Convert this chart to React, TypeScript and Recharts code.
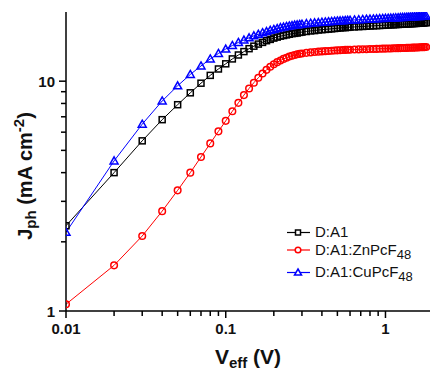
import React from 'react'
import { LineChart, Line, XAxis, YAxis } from 'recharts'

// effective voltage (V)
const V_EFF = [
  0.01, 0.02, 0.03, 0.04, 0.05, 0.06, 0.07, 0.08, 0.09, 0.1,
  0.11, 0.12, 0.13, 0.14, 0.15, 0.16, 0.17, 0.18, 0.19, 0.2,
  0.21, 0.22, 0.23, 0.24, 0.25, 0.26, 0.27, 0.28, 0.29, 0.3,
  0.32, 0.34, 0.36, 0.38, 0.4, 0.42, 0.44, 0.46, 0.48, 0.5,
  0.52, 0.54, 0.56, 0.58, 0.6,
  0.64, 0.68, 0.72, 0.76, 0.8, 0.84, 0.88, 0.92, 0.96, 1.0,
  1.04, 1.08, 1.12, 1.16, 1.2, 1.24, 1.28, 1.32, 1.36, 1.4,
  1.44, 1.48, 1.52, 1.56, 1.6, 1.64, 1.68, 1.72, 1.76, 1.8,
]

// Jph (mA cm-2)
const J_DA1 = [
  2.35, 4.0, 5.5, 6.8, 7.9, 8.9, 9.8, 10.6, 11.3, 11.9,
  12.5, 13.0, 13.45, 13.85, 14.2, 14.5, 14.75, 15.0, 15.2, 15.4,
  15.55, 15.7, 15.8, 15.9, 16.0, 16.1, 16.15, 16.2, 16.3, 16.35,
  16.45, 16.55, 16.6, 16.7, 16.75, 16.8, 16.85, 16.9, 16.95, 17.0,
  17.05, 17.1, 17.1, 17.15, 17.2,
  17.22, 17.27, 17.3, 17.34, 17.38, 17.41, 17.44, 17.47, 17.5, 17.53,
  17.56, 17.58, 17.6, 17.63, 17.65, 17.68, 17.7, 17.72, 17.74, 17.76,
  17.78, 17.8, 17.82, 17.84, 17.86, 17.88, 17.9, 17.92, 17.94, 17.96,
]

const J_ZN = [
  1.07, 1.58, 2.12, 2.72, 3.35, 4.0, 4.68, 5.36, 6.05, 6.72,
  7.4, 8.05, 8.7, 9.3, 9.85, 10.35, 10.8, 11.2, 11.55, 11.85,
  12.1, 12.3, 12.5, 12.65, 12.8, 12.9, 13.0, 13.1, 13.15, 13.2,
  13.28, 13.34, 13.39, 13.44, 13.48, 13.51, 13.54, 13.57, 13.6, 13.62,
  13.64, 13.66, 13.68, 13.7, 13.71,
  13.73, 13.75, 13.77, 13.78, 13.8, 13.81, 13.82, 13.84, 13.85, 13.86,
  13.87, 13.88, 13.9, 13.91, 13.92, 13.93, 13.94, 13.95, 13.96, 13.97,
  13.98, 13.99, 14.0, 14.01, 14.02, 14.04, 14.05, 14.06, 14.07, 14.08,
]

const J_CU = [
  2.2, 4.5, 6.5, 8.2, 9.55, 10.7, 11.65, 12.5, 13.2, 13.8,
  14.3, 14.75, 15.1, 15.45, 15.75, 16.0, 16.25, 16.45, 16.65, 16.8,
  16.95, 17.1, 17.2, 17.3, 17.4, 17.45, 17.55, 17.6, 17.65, 17.7,
  17.8, 17.88, 17.95, 18.0, 18.05, 18.1, 18.15, 18.2, 18.25, 18.28,
  18.31, 18.34, 18.37, 18.4, 18.43,
  18.48, 18.52, 18.56, 18.6, 18.63, 18.66, 18.69, 18.72, 18.75, 18.78,
  18.8, 18.83, 18.85, 18.88, 18.9, 18.93, 18.95, 18.97, 19.0, 19.02,
  19.04, 19.06, 19.08, 19.1, 19.12, 19.14, 19.16, 19.18, 19.2, 19.22,
]

const X_TICKS = [
  0.01, 0.02, 0.03, 0.04, 0.05, 0.06, 0.07, 0.08, 0.09,
  0.1, 0.2, 0.3, 0.4, 0.5, 0.6, 0.7, 0.8, 0.9, 1,
]
const X_LABELS = ['0.01', '0.1', '1']
const Y_TICKS = [1, 2, 3, 4, 5, 6, 7, 8, 9, 10]
const Y_LABELS = ['1', '10']

const data = V_EFF.map((v, i) => ({ v, da1: J_DA1[i], zn: J_ZN[i], cu: J_CU[i] }))

const FONT = 'Liberation Sans, Arial, sans-serif'

function XTick(props: any) {
  const { x, y, payload } = props
  const label = String(payload.value)
  const major = X_LABELS.includes(label)
  return (
    <g>
      <line x1={x} x2={x} y1={y} y2={y + (major ? 7 : 5)} stroke="#000" strokeWidth={1.5} />
      {major && (
        <text x={x} y={y + 22.5} textAnchor="middle" fontFamily={FONT} fontWeight="bold" fontSize={15} fill="#111">
          {label}
        </text>
      )}
    </g>
  )
}

function YTick(props: any) {
  const { x, y, payload } = props
  const label = String(payload.value)
  const major = Y_LABELS.includes(label)
  return (
    <g>
      <line x1={x} x2={x - (major ? 7 : 5)} y1={y} y2={y} stroke="#000" strokeWidth={1.5} />
      {major && (
        <text x={x - 11} y={y + 5.5} textAnchor="end" fontFamily={FONT} fontWeight="bold" fontSize={15} fill="#111">
          {label}
        </text>
      )}
    </g>
  )
}

function squareDot(props: any) {
  const { cx, cy, index } = props
  if (cx == null || cy == null) return <g key={index} />
  return <rect key={index} x={cx - 3} y={cy - 3} width={6} height={6} fill="none" stroke="#000" strokeWidth={1.5} />
}

function circleDot(props: any) {
  const { cx, cy, index } = props
  if (cx == null || cy == null) return <g key={index} />
  return <circle key={index} cx={cx} cy={cy} r={3.3} fill="none" stroke="#ff0000" strokeWidth={1.5} />
}

function triangleDot(props: any) {
  const { cx, cy, index } = props
  if (cx == null || cy == null) return <g key={index} />
  const pts = `${cx},${cy - 4} ${cx + 4},${cy + 3} ${cx - 4},${cy + 3}`
  return <polygon key={index} points={pts} fill="none" stroke="#0000ff" strokeWidth={1.5} />
}

const LEGEND = [
  { name: 'D:A1', sub: '', color: '#000', y: 232.5, kind: 'square' },
  { name: 'D:A1:ZnPcF', sub: '48', color: '#ff0000', y: 250, kind: 'circle' },
  { name: 'D:A1:CuPcF', sub: '48', color: '#0000ff', y: 272.5, kind: 'triangle' },
]

function Overlay() {
  return (
    <svg width={433} height={371} style={{ position: 'absolute', left: 0, top: 0, pointerEvents: 'none' }}>
      <text x={248} y={364} textAnchor="middle" fontFamily={FONT} fontWeight="bold" fontSize={21} fill="#111">
        V<tspan dy={4} fontSize={15}>eff</tspan>
        <tspan dy={-4}> (V)</tspan>
      </text>
      <text transform="translate(32,176) rotate(-90)" textAnchor="middle" fontFamily={FONT} fontWeight="bold" fontSize={20} fill="#111">
        J<tspan dy={4} fontSize={15}>ph</tspan>
        <tspan dy={-4}> (mA cm</tspan>
        <tspan dy={-8} fontSize={15}>-2</tspan>
        <tspan dy={8}>)</tspan>
      </text>
      {LEGEND.map((item) => (
        <g key={item.name}>
          <line x1={287} x2={310} y1={item.y} y2={item.y} stroke={item.color} strokeWidth={1.2} />
          {item.kind === 'square' && (
            <rect x={295.5} y={item.y - 2.5} width={5} height={5} fill="#fff" stroke={item.color} strokeWidth={1.5} />
          )}
          {item.kind === 'circle' && (
            <circle cx={298} cy={item.y} r={2.8} fill="#fff" stroke={item.color} strokeWidth={1.5} />
          )}
          {item.kind === 'triangle' && (
            <polygon
              points={`298,${item.y - 3.5} 301.5,${item.y + 2.5} 294.5,${item.y + 2.5}`}
              fill="#fff"
              stroke={item.color}
              strokeWidth={1.5}
            />
          )}
          <text x={315} y={item.y + 4.5} fontFamily={FONT} fontSize={15} fill="#111">
            {item.name}
            {item.sub && (
              <tspan dy={4} fontSize={13}>
                {item.sub}
              </tspan>
            )}
          </text>
        </g>
      ))}
    </svg>
  )
}

export default function App() {
  return (
    <div style={{ position: 'absolute', left: 0, top: 0, width: 433, height: 371, background: '#fff' }}>
      <LineChart width={433} height={371} data={data} margin={{ top: 12, right: 3, left: 0, bottom: 0 }}>
        <XAxis
          dataKey="v"
          type="number"
          scale="log"
          domain={[0.01, 1.9]}
          allowDataOverflow
          ticks={X_TICKS}
          interval={0}
          height={60}
          tickSize={0}
          tickMargin={0}
          tickLine={false}
          tick={<XTick />}
          axisLine={{ stroke: '#000', strokeWidth: 1.5 }}
        />
        <XAxis
          xAxisId="top"
          orientation="top"
          dataKey="v"
          type="number"
          scale="log"
          domain={[0.01, 1.9]}
          allowDataOverflow
          height={0}
          tick={false}
          tickLine={false}
          axisLine={{ stroke: '#555', strokeWidth: 1.5 }}
        />
        <YAxis
          type="number"
          scale="log"
          domain={[1, 20]}
          allowDataOverflow
          ticks={Y_TICKS}
          interval={0}
          width={66}
          tickSize={0}
          tickMargin={0}
          tickLine={false}
          tick={<YTick />}
          axisLine={{ stroke: '#000', strokeWidth: 1.5 }}
        />
        <YAxis
          yAxisId="right"
          orientation="right"
          type="number"
          scale="log"
          domain={[1, 20]}
          allowDataOverflow
          width={0}
          tick={false}
          tickLine={false}
          axisLine={{ stroke: '#555', strokeWidth: 1.5 }}
        />
        <Line dataKey="da1" stroke="#000" strokeWidth={1} dot={squareDot} isAnimationActive={false} />
        <Line dataKey="zn" stroke="#ff0000" strokeWidth={1} dot={circleDot} isAnimationActive={false} />
        <Line dataKey="cu" stroke="#0000ff" strokeWidth={1} dot={triangleDot} isAnimationActive={false} />
      </LineChart>
      <Overlay />
    </div>
  )
}
